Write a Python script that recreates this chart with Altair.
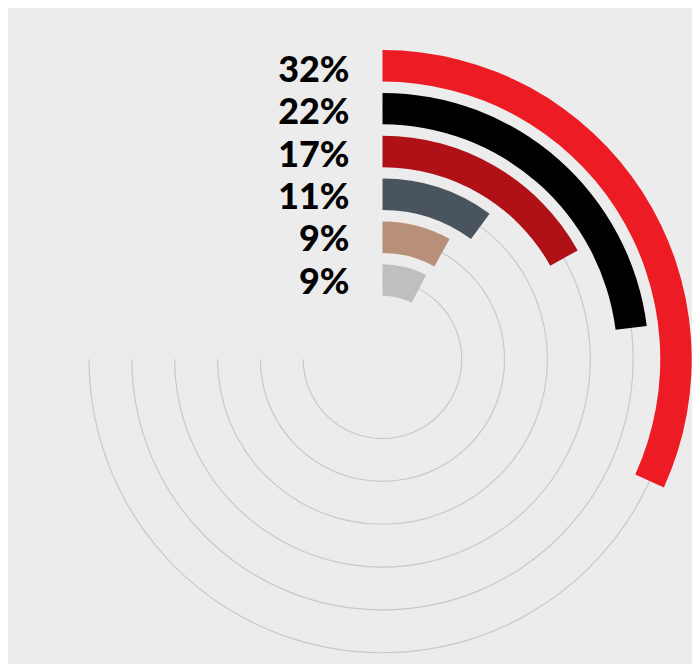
import math
import altair as alt
import pandas as pd

# ---- data ----
labels = ["32%", "22%", "17%", "11%", "9%", "9%"]          # printed labels (outer -> inner)
shares = [32, 22, 17, 11, 9, 9]                            # stated percentages
drawn_shares = [31.8, 23.0, 16.9, 10.1, 8.1, 7.6]          # arc extent as drawn (% of full turn)
rings = [5, 4, 3, 2, 1, 0]                                 # ring index, 0 = innermost
colors = ["#ED1C24", "#000000", "#B01117", "#4A545E", "#B89079", "#BEBFC0"]
grid_rings = [0, 1, 2, 3, 4, 5]
grid_extent = 75                                           # guide arcs cover 3/4 of the circle

# ---- layout ----
W, H = 684, 653
CX, CY = 386, 352
R_MID_IN, R_MID_OUT = 81.7, 302.5
STEP = (R_MID_OUT - R_MID_IN) / 5
HALF_BAR = 16.2 / STEP
HALF_GRID = 0.6 / STEP
BG = "#EBECEB"

bars_df = pd.DataFrame({"label": labels, "share": shares, "drawn": drawn_shares, "ring": rings})
grid_df = pd.DataFrame({"ring": grid_rings, "extent": [grid_extent] * len(grid_rings)})

theta_scale = alt.Scale(domain=[0, 100], range=[0, 2 * math.pi])
radius_scale = alt.Scale(type="linear", domain=[0, 5], range=[R_MID_IN, R_MID_OUT], zero=False, nice=False)

grid = alt.Chart(grid_df).transform_calculate(
    t0="0", r_out=f"datum.ring + {HALF_GRID}", r_in=f"datum.ring - {HALF_GRID}"
).mark_arc(color="#C8C8C8").encode(
    x=alt.value(CX), y=alt.value(CY),
    theta=alt.Theta("t0:Q", scale=theta_scale, stack=None),
    theta2="extent:Q",
    radius=alt.Radius("r_out:Q", scale=radius_scale),
    radius2="r_in:Q",
)

bars = alt.Chart(bars_df).transform_calculate(
    t0="0", r_out=f"datum.ring + {HALF_BAR}", r_in=f"datum.ring - {HALF_BAR}"
).mark_arc().encode(
    x=alt.value(CX), y=alt.value(CY),
    theta=alt.Theta("t0:Q", scale=theta_scale, stack=None),
    theta2="drawn:Q",
    radius=alt.Radius("r_out:Q", scale=radius_scale),
    radius2="r_in:Q",
    color=alt.Color("ring:O", scale=alt.Scale(domain=rings, range=colors), legend=None),
)

CAP_HALF = 13.3
text = alt.Chart(bars_df).mark_text(
    align="right", baseline="alphabetic",
    font="Lato", fontSize=37, fontWeight=900, color="#000000",
).encode(
    x=alt.value(352),
    y=alt.Y("ring:Q", scale=alt.Scale(
        domain=[0, 5],
        range=[CY - R_MID_IN + 0.7 + CAP_HALF, CY - R_MID_OUT + 3.4 + CAP_HALF]), axis=None),
    text="label:N",
)

chart = alt.layer(grid, bars, text).properties(
    width=W, height=H, padding=0, background=BG
).configure_view(stroke=None)

chart.save("out.html", embed_options={"renderer": "svg", "actions": False})
